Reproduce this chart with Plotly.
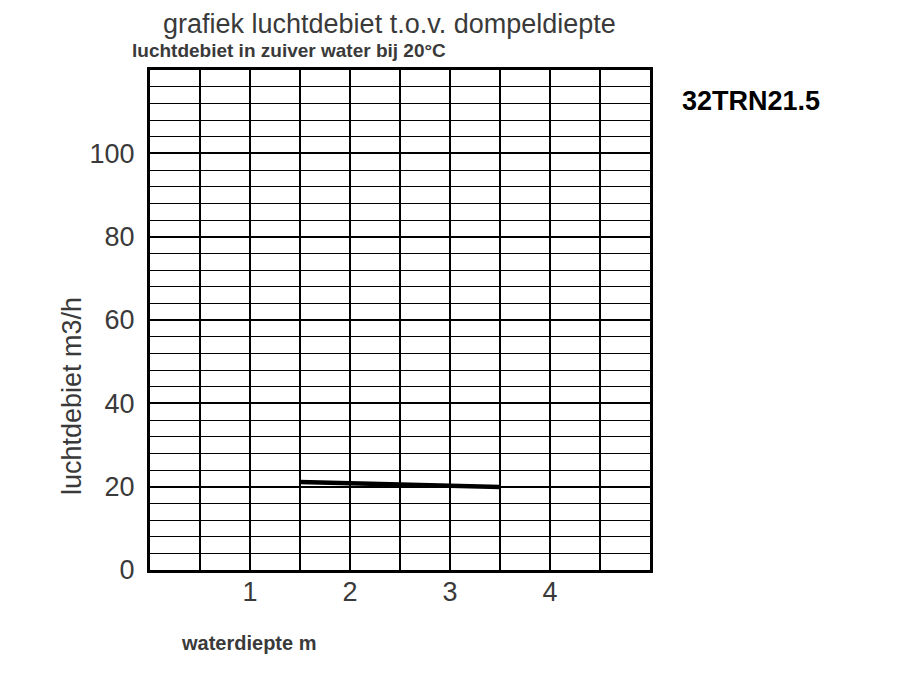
import plotly.graph_objects as go

depth = [1.5, 2.5, 3.5]
airflow = [21.1, 20.6, 19.9]
x_ticks = [1, 2, 3, 4]
y_ticks = [0, 20, 40, 60, 80, 100]

title = "grafiek luchtdebiet t.o.v. dompeldiepte"
subtitle = "luchtdebiet in zuiver water bij 20°C"
ytitle = "luchtdebiet m3/h"
xtitle = "waterdiepte m"
model = "32TRN21.5"

OFF = 8  # page body margin
W, H = 900 - 2 * OFF, 700 - 2 * OFF
L, R, T, B = 150, 650, 70, 570
def px(x): return (x - L) / (R - L)
def py(y): return (B - y) / (B - T)

FONT = "Liberation Sans, Arial, sans-serif"
TXT = "#3a3a3a"

fig = go.Figure()
fig.add_trace(go.Scatter(x=depth, y=airflow, mode="lines",
                         line=dict(color="black", width=4.5), showlegend=False,
                         hoverinfo="skip"))

fig.update_layout(
    width=W, height=H,
    margin=dict(l=L - OFF, r=W + OFF - R, t=T - OFF, b=H + OFF - B, pad=0),
    paper_bgcolor="white", plot_bgcolor="white",
    showlegend=False,
    xaxis=dict(range=[0, 5], tickvals=x_ticks, ticktext=[str(v) for v in x_ticks],
               showgrid=True, gridcolor="black", gridwidth=1.5,
               minor=dict(dtick=0.5, tick0=0, showgrid=True, gridcolor="black", gridwidth=1.5),
               zeroline=False, showline=True, linecolor="black", linewidth=3, mirror=True,
               ticks="", ticklabelstandoff=-4,
               tickfont=dict(family=FONT, size=27, color=TXT), fixedrange=True),
    yaxis=dict(range=[0, 120], tickvals=y_ticks, ticktext=[str(v) for v in y_ticks],
               showgrid=True, gridcolor="black", gridwidth=2,
               minor=dict(dtick=4, tick0=0, showgrid=True, gridcolor="black", gridwidth=1),
               zeroline=False, showline=True, linecolor="black", linewidth=3, mirror=True,
               ticks="", ticklabelstandoff=7,
               tickfont=dict(family=FONT, size=27, color=TXT), fixedrange=True),
    annotations=[
        dict(text=title, x=px(389), y=py(24), xref="paper", yref="paper",
             showarrow=False, xanchor="center", yanchor="middle",
             font=dict(family=FONT, size=27, color=TXT)),
        dict(text="<b>" + subtitle + "</b>", x=px(130), y=py(51), xref="paper", yref="paper",
             showarrow=False, xanchor="left", yanchor="middle",
             font=dict(family=FONT, size=19, color=TXT)),
        dict(text=ytitle, x=px(72), y=py(396), xref="paper", yref="paper",
             showarrow=False, xanchor="center", yanchor="middle", textangle=-90,
             font=dict(family=FONT, size=27, color=TXT)),
        dict(text="<b>" + xtitle + "</b>", x=px(179), y=py(643), xref="paper", yref="paper",
             showarrow=False, xanchor="left", yanchor="middle",
             font=dict(family=FONT, size=20, color=TXT)),
        dict(text="<b>" + model + "</b>", x=px(680), y=py(101), xref="paper", yref="paper",
             showarrow=False, xanchor="left", yanchor="middle",
             font=dict(family=FONT, size=27, color="black")),
    ],
)

fig.write_html("out.html")
